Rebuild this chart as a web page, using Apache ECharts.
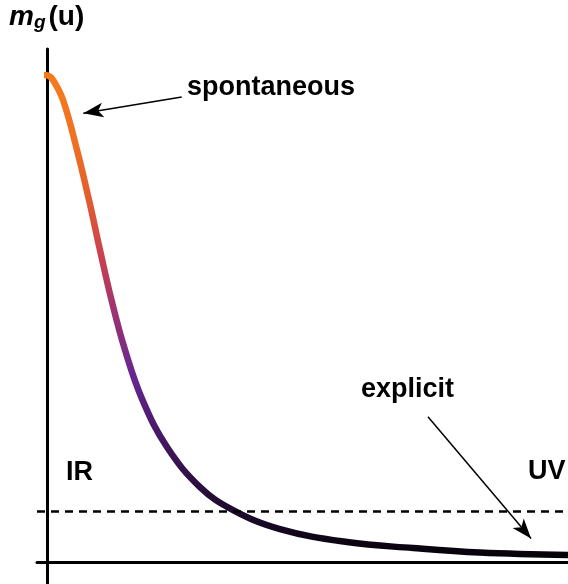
<!DOCTYPE html>
<html lang="en">
<head>
<meta charset="UTF-8">
<title>m_g(u)</title>
<style>
  html, body { margin: 0; padding: 0; background: #fff; }
</style>
</head>
<body>
<div id="container" style="width: 568px;height:584px;"></div>

<script src="https://cdn.jsdelivr.net/npm/echarts@6/dist/echarts.min.js"></script>
<script type="text/javascript">

// curve m_g(u)
var uValues = [-0.065, 0.012, 0.108, 0.300, 0.569, 0.799, 1.010, 1.231, 1.491, 1.827, 2.297, 2.931, 3.565, 4.468, 5.756, 7.023, 8.310, 10.0];
var mValues = [9.549, 9.539, 9.451, 9.059, 8.078, 7.098, 6.118, 5.137, 4.157, 3.176, 2.255, 1.471, 1.020, 0.647, 0.392, 0.275, 0.186, 0.137];

// dashed level
var explicitLevel = 1.0;

// arrows: [from, to] in data coordinates
var spontaneousArrow = [[2.58, 9.12], [0.69, 8.80]];
var explicitArrow = [[7.31, 2.85], [9.29, 0.46]];

var curve = [];
for (var i = 0; i < uValues.length; i++) {
  curve.push([uValues[i], mValues[i]]);
}

var font = '"Liberation Sans", Arial, sans-serif';

var dom = document.getElementById("container");
var myChart = echarts.init(dom);
var option = {
  animation: false,
  grid: { left: 37, right: 0, top: 49, bottom: 0 },
  xAxis: {
    type: 'value',
    min: -0.2,
    max: 10,
    axisLine: { onZero: true, lineStyle: { color: '#000', width: 3 } },
    axisTick: { show: false },
    axisLabel: { show: false },
    splitLine: { show: false }
  },
  yAxis: {
    type: 'value',
    min: -0.43,
    max: 10.06,
    axisLine: { show: true, onZero: true, lineStyle: { color: '#000', width: 3 } },
    axisTick: { show: false },
    axisLabel: { show: false },
    splitLine: { show: false }
  },
  visualMap: {
    show: false,
    type: 'continuous',
    seriesIndex: 0,
    dimension: 1,
    min: 0.1,
    max: 9.55,
    inRange: {
      color: ['#050208', '#260d38', '#461864', '#66268f', '#9a3274', '#c8424f', '#e45e30', '#f07222', '#f47b1c']
    }
  },
  series: [
    {
      type: 'line',
      data: curve,
      smooth: 0.4,
      showSymbol: false,
      lineStyle: { width: 6.5, cap: 'butt' },
      z: 3
    },
    {
      type: 'line',
      data: [],
      markLine: {
        silent: true,
        symbol: ['none', 'none'],
        label: { show: false },
        lineStyle: { color: '#000', width: 2.5, type: [8, 6] },
        data: [{ yAxis: explicitLevel }]
      }
    },
    {
      type: 'line',
      data: [],
      markLine: {
        silent: true,
        symbol: ['none', 'arrow'],
        symbolSize: [11, 20],
        label: { show: false },
        lineStyle: { color: '#000', width: 1.5, type: 'solid' },
        data: [
          [{ coord: spontaneousArrow[0] }, { coord: spontaneousArrow[1] }],
          [{ coord: explicitArrow[0] }, { coord: explicitArrow[1] }]
        ]
      }
    }
  ],
  graphic: [
    {
      type: 'text', left: 9, top: 3,
      style: {
        text: '{m|m}{g|g}{p|(u)}',
        rich: {
          m: { fontFamily: font, fontSize: 28, fontWeight: 'bold', fontStyle: 'italic', fill: '#000' },
          g: { fontFamily: font, fontSize: 19, fontWeight: 'bold', fontStyle: 'italic', fill: '#000', padding: [12, 3, 0, 0] },
          p: { fontFamily: font, fontSize: 28, fontWeight: 'bold', fill: '#000' }
        }
      }
    },
    { type: 'text', x: 187, y: 88, style: { text: 'spontaneous', font: 'bold 27px ' + font, fill: '#000', verticalAlign: 'middle' } },
    { type: 'text', x: 361, y: 390, style: { text: 'explicit', font: 'bold 27px ' + font, fill: '#000', verticalAlign: 'middle' } },
    { type: 'text', x: 66, y: 473, style: { text: 'IR', font: 'bold 27px ' + font, fill: '#000', verticalAlign: 'middle' } },
    { type: 'text', x: 528, y: 472, style: { text: 'UV', font: 'bold 27px ' + font, fill: '#000', verticalAlign: 'middle' } }
  ]
};

myChart.setOption(option);

</script>
</body>
</html>
